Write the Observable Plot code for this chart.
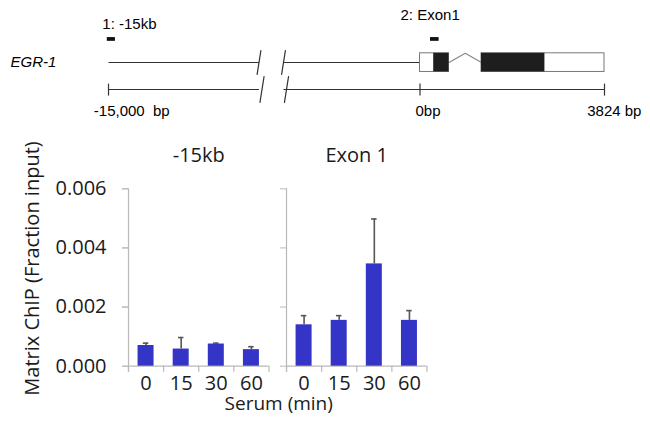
<!DOCTYPE html>
<html><head><meta charset="utf-8">
<script src="https://cdn.jsdelivr.net/npm/d3@7"></script>
<script src="https://cdn.jsdelivr.net/npm/@observablehq/plot@0.6"></script>
<style>
html,body{margin:0;padding:0;background:#fff;}
#fig{position:relative;width:650px;height:425px;overflow:hidden;background:#fff;}
#gene{position:absolute;left:0;top:0;}
#bars{position:absolute;left:0;top:130px;}
</style></head><body>
<div id="fig"><div id="gene"></div><div id="bars"></div></div>
<script>
// ---------------- data: ChIP bars ----------------
const timepoints = ["0", "15", "30", "60"];
const regions = ["-15kb", "Exon 1"];
const meanUpstream = [0.00070, 0.00058, 0.00075, 0.00056];
const sdUpstream   = [0.00008, 0.00039, 0.00003, 0.00010];
const meanExon1    = [0.00140, 0.00155, 0.00346, 0.00155];
const sdExon1      = [0.00031, 0.00016, 0.00152, 0.00033];
const yTicks = [0, 0.002, 0.004, 0.006];
const yLabel = "Matrix ChIP (Fraction input)";
const xLabel = "Serum (min)";

// ---------------- data: EGR-1 gene diagram (bp) ----------------
const geneName = "EGR-1";
const upstreamStart = -15000;
const geneEnd = 3824;
const axisBreak = [-10000, -6000];
const exonStarts = [0, 1275];
const exonEnds = [601, 3824];
const cdsStarts = [284, 1275];
const cdsEnds = [601, 2589];
const ampliconLabels = ["1: -15kb", "2: Exon1"];
const ampliconStarts = [-15040, 218];
const ampliconEnds = [-14770, 396];
const rulerTicks = [-15000, 0, 3824];
const rulerLabels = ["-15,000\u00a0 bp", "0bp", "3824 bp"];

// ---------------- tables ----------------
const means = [meanUpstream, meanExon1];
const sds = [sdUpstream, sdExon1];
const rows = [];
regions.forEach((r, ri) => timepoints.forEach((t, ti) =>
  rows.push({region: r, time: t, mean: means[ri][ti], sd: sds[ri][ti]})));

const exons = exonStarts.map((s, i) => ({start: s, end: exonEnds[i]}));
const cds = cdsStarts.map((s, i) => ({start: s, end: cdsEnds[i]}));
const amplicons = ampliconLabels.map((l, i) => ({label: l, start: ampliconStarts[i], end: ampliconEnds[i]}));
const rulerMarks = rulerTicks.map((p, i) => ({pos: p, label: rulerLabels[i]}));

// ---------------- styles ----------------
const ROW = {label: 0, primer: 1, gene: 2, ruler: 3, rulerText: 4};
const ampliconNudge = [{dx: -5, dy: 9}, {dx: -30, dy: 0}];
const rulerNudge = [-14.7, -4.5, -17.3];
const lineColor = "#333";

// ---------------- gene diagram ----------------
const chevron = [
  {x: exonEnds[0], y: ROW.gene},
  {x: (exonEnds[0] + exonStarts[1]) / 2, y: ROW.gene - 0.4},
  {x: exonStarts[1], y: ROW.gene}
];
const slash = {draw(ctx, l) { ctx.moveTo(0, 0); ctx.lineTo(0, -l); }};

const geneMarks = [
  Plot.link([{a: upstreamStart, b: axisBreak[0]}, {a: axisBreak[1], b: 0}],
    {x1: "a", x2: "b", y1: ROW.gene, y2: ROW.gene, stroke: lineColor, strokeWidth: 1.2}),
  Plot.vector(axisBreak, {x: d => d, y: ROW.gene, length: 24, rotate: 9, anchor: "middle", shape: slash, stroke: lineColor, strokeWidth: 1.2}),
  Plot.line(chevron, {x: "x", y: "y", stroke: "#888", strokeWidth: 1.2}),
  Plot.rect(exons, {x1: "start", x2: "end", y1: ROW.gene - 0.4, y2: ROW.gene + 0.35, fill: "white", stroke: "#777", strokeWidth: 1}),
  Plot.rect(cds, {x1: "start", x2: "end", y1: ROW.gene - 0.4, y2: ROW.gene + 0.35, fill: "#1e1e1e"}),
  Plot.rect(amplicons, {x1: "start", x2: "end", y1: ROW.primer - 0.08, y2: ROW.primer + 0.08, fill: "#111"}),
  ...amplicons.map((a, i) => Plot.text([a], {x: "start", y: ROW.label, text: "label", textAnchor: "start", dx: ampliconNudge[i].dx, dy: ampliconNudge[i].dy, fill: "#000"})),
  Plot.text([geneName], {frameAnchor: "left", y: ROW.gene, text: d => d, textAnchor: "start", lineAnchor: "middle", dx: 10, fontStyle: "italic", fill: "#000"}),
  Plot.link([{a: upstreamStart, b: axisBreak[0]}, {a: axisBreak[1], b: geneEnd}],
    {x1: "a", x2: "b", y1: ROW.ruler, y2: ROW.ruler, stroke: lineColor, strokeWidth: 1.2}),
  Plot.vector(axisBreak, {x: d => d, y: ROW.ruler, length: 26, rotate: 9, anchor: "middle", shape: slash, stroke: lineColor, strokeWidth: 1.2, dx: 3}),
  Plot.ruleX(rulerMarks, {x: "pos", y1: ROW.ruler - 0.2, y2: ROW.ruler + 0.3, stroke: lineColor, strokeWidth: 1.2}),
  ...rulerMarks.map((r, i) => Plot.text([r], {x: "pos", y: ROW.rulerText, text: "label", textAnchor: "start", dx: rulerNudge[i], fill: "#000"}))
];

const genePlot = Plot.plot({
  width: 650, height: 125, margin: 0,
  style: {fontFamily: "'Liberation Sans', Arial, sans-serif", fontSize: "15px", color: "#000", background: "white", overflow: "visible"},
  x: {type: "linear", domain: [upstreamStart, axisBreak[0], axisBreak[1], 0, geneEnd], range: [108, 258.5, 283, 419.5, 604], axis: null},
  y: {type: "linear", domain: [0, 1, 2, 3, 4], range: [15, 39, 62, 89, 111], axis: null},
  marks: geneMarks
});
document.getElementById("gene").append(genePlot);

// ---------------- bar chart ----------------
const W = 650, H = 295, mL = 128, mR = 223.5, mT = 58.3, mB = 59.3;
const fxPad = 0.111;
const innerW = W - mL - mR;
const step = innerW / (regions.length - fxPad);
const facetW = step * (1 - fxPad);
const bw = facetW / timepoints.length;
const barW = 16, capW = 5.5;
const axisColor = "#b8b8b8";
const barColor = "#3434c6";
const errColor = "#555";
const firstT = rows.filter(d => d.time === timepoints[0]);
const lastT = rows.filter(d => d.time === timepoints[timepoints.length - 1]);

const barPlot = Plot.plot({
  width: W, height: H, marginLeft: mL, marginRight: mR, marginTop: mT, marginBottom: mB,
  style: {fontFamily: "'Open Sans', sans-serif", fontSize: "20px", color: "#1a1a1a", background: "white", overflow: "visible"},
  fx: {domain: regions, paddingInner: fxPad, paddingOuter: 0, round: false, axis: null},
  x: {domain: timepoints, paddingInner: 0, paddingOuter: 0, round: false},
  y: {domain: [0, 0.006]},
  marks: [
    // axis lines
    Plot.ruleY(regions, {fx: d => d, y: 0, stroke: axisColor, strokeWidth: 1.2}),
    Plot.ruleX(firstT, {fx: "region", x: "time", y1: 0.006, y2: 0, dx: -bw / 2, insetBottom: -6, stroke: axisColor, strokeWidth: 1.2}),
    Plot.ruleX(rows, {fx: "region", x: "time", y1: 0, y2: 0, dx: -bw / 2, insetBottom: -6, stroke: axisColor, strokeWidth: 1.2}),
    Plot.ruleX(lastT, {fx: "region", x: "time", y1: 0, y2: 0, dx: bw / 2, insetBottom: -6, stroke: axisColor, strokeWidth: 1.2}),
    Plot.axisY({ticks: yTicks, tickSize: 6, tickFormat: () => "", label: null, stroke: axisColor, facetAnchor: null}),
    Plot.axisY({ticks: yTicks, tickSize: 6, tickPadding: 16, tickFormat: d3.format(".3f"), label: null, stroke: axisColor, fill: "#1a1a1a"}),
    Plot.axisX({tickSize: 0, tickPadding: 10, label: null, fill: "#1a1a1a"}),
    // bars + error bars
    Plot.barY(rows, {fx: "region", x: "time", y: "mean", fill: barColor, insetLeft: (bw - barW) / 2, insetRight: (bw - barW) / 2}),
    Plot.ruleX(rows, {fx: "region", x: "time", y1: "mean", y2: d => d.mean + d.sd, stroke: errColor, strokeWidth: 1.6}),
    Plot.tickY(rows, {fx: "region", x: "time", y: d => d.mean + d.sd, stroke: errColor, strokeWidth: 1.6, insetLeft: (bw - capW) / 2, insetRight: (bw - capW) / 2}),
    // titles & labels
    Plot.text(regions, {fx: d => d, text: d => d, frameAnchor: "top", textAnchor: "middle", lineAnchor: "middle", dy: -33, fill: "#1a1a1a"}),
    Plot.text([yLabel], {fx: () => regions[0], text: d => d, frameAnchor: "left", textAnchor: "middle", lineAnchor: "middle", rotate: -90, dx: -96, dy: -9, fill: "#1a1a1a"}),
    Plot.text([xLabel], {fx: () => regions[0], text: d => d, frameAnchor: "bottom", textAnchor: "middle", lineAnchor: "middle", dx: 80, dy: 38, fontSize: 19, fill: "#1a1a1a"})
  ]
});
document.getElementById("bars").append(barPlot);
</script>
</body></html>
